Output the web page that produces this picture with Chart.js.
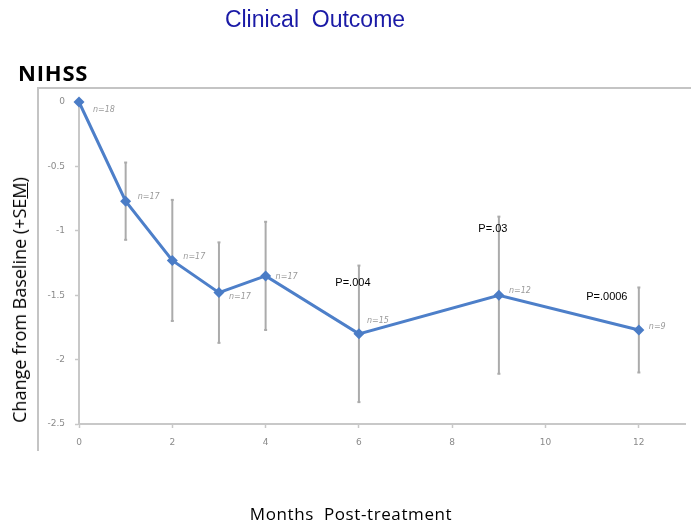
<!DOCTYPE html>
<html>
<head>
<meta charset="utf-8">
<script src="https://cdn.jsdelivr.net/npm/chart.js@4.4.1/dist/chart.umd.min.js"></script>
<style>
  html, body { margin:0; padding:0; background:#fff; }
  #wrap { position:relative; width:691px; height:524px; overflow:hidden; }
  #c { position:absolute; left:0; top:0; }
  .t { position:absolute; white-space:nowrap; }
  #title { left:0; width:630px; top:6px; text-align:center; font-family:"Liberation Sans", Arial, sans-serif; font-size:23px; color:#1a1aa6; }
  #nihss { left:18px; top:57px; font-family:"Open Sans", sans-serif; font-weight:bold; font-size:22px; color:#000; letter-spacing:0.8px; }
  #ytitle { left:19px; top:300px; font-family:"Open Sans", sans-serif; font-size:18px; color:#000; transform:translate(-50%,-50%) rotate(-90deg); }
  #xtitle { left:0; width:702px; top:502px; text-align:center; font-family:"Open Sans", sans-serif; font-size:17px; letter-spacing:0.6px; color:#000; }
</style>
</head>
<body>
<div id="wrap">
  <canvas id="c" width="691" height="524"></canvas>
  <div class="t" id="title">Clinical&nbsp; Outcome</div>
  <div class="t" id="nihss">NIHSS</div>
  <div class="t" id="ytitle">Change from Baseline (+SE<u>M</u>)</div>
  <div class="t" id="xtitle">Months&nbsp; Post-treatment</div>
</div>
<script>
const months = [0, 1, 2, 3, 4, 6, 9, 12];
const meanChange = [0, -0.77, -1.23, -1.48, -1.35, -1.80, -1.50, -1.77];
const sem = [0, 0.30, 0.47, 0.39, 0.42, 0.53, 0.61, 0.33];
const nLabels = ['n=18', 'n=17', 'n=17', 'n=17', 'n=17', 'n=15', 'n=12', 'n=9'];
const pLabels = [null, null, null, null, null, 'P=.004', 'P=.03', 'P=.0006'];
const xTickValues = [0, 2, 4, 6, 8, 10, 12];
const yTickValues = [0, -0.5, -1, -1.5, -2, -2.5];

// pixel offsets for annotation placement (drawing-only)
const nOffsets = [[14, 8], [12, -4], [11, -4], [10, 4], [10, 1], [8, -13], [10, -4], [10, -3]];
const pOffsets = {5: [-6, 17], 6: [-6, 12], 7: [-32, 9]};

const overlay = {
  id: 'overlay',
  beforeDatasetsDraw(chart) {
    const ctx = chart.ctx, xs = chart.scales.x, ys = chart.scales.y;
    ctx.save();
    ctx.strokeStyle = '#c4c4c4';
    ctx.lineWidth = 2;
    ctx.beginPath();
    ctx.moveTo(38, 451); ctx.lineTo(38, 88); ctx.lineTo(691, 88);
    ctx.stroke();
    ctx.strokeStyle = '#ababab';
    ctx.fillStyle = '#ababab';
    ctx.lineWidth = 2;
    months.forEach((m, i) => {
      if (!sem[i]) return;
      const x = xs.getPixelForValue(m);
      const y1 = ys.getPixelForValue(meanChange[i] + sem[i]);
      const y2 = ys.getPixelForValue(meanChange[i] - sem[i]);
      ctx.beginPath(); ctx.moveTo(x, y1); ctx.lineTo(x, y2); ctx.stroke();
      ctx.fillRect(x - 1.5, y1 - 1, 3, 2);
      ctx.fillRect(x - 1.5, y2 - 1, 3, 2);
    });
    ctx.restore();
  },
  afterDatasetsDraw(chart) {
    const ctx = chart.ctx, xs = chart.scales.x, ys = chart.scales.y;
    ctx.save();
    ctx.font = 'italic 8px "DejaVu Sans", sans-serif';
    ctx.fillStyle = '#9a9a9a';
    ctx.textAlign = 'left';
    ctx.textBaseline = 'middle';
    months.forEach((m, i) => {
      const x = xs.getPixelForValue(m), y = ys.getPixelForValue(meanChange[i]);
      ctx.fillText(nLabels[i], x + nOffsets[i][0], y + nOffsets[i][1]);
    });
    ctx.font = '11px "Liberation Sans", Arial, sans-serif';
    ctx.fillStyle = '#000';
    ctx.textAlign = 'center';
    months.forEach((m, i) => {
      if (!pLabels[i]) return;
      const x = xs.getPixelForValue(m);
      const y = ys.getPixelForValue(meanChange[i] + sem[i]);
      const o = pOffsets[i];
      ctx.fillText(pLabels[i], x + o[0], y + o[1]);
    });
    ctx.restore();
  }
};

new Chart(document.getElementById('c'), {
  type: 'scatter',
  data: {
    datasets: [{
      data: months.map((m, i) => ({x: m, y: meanChange[i]})),
      showLine: true,
      borderColor: '#4d7fc9',
      backgroundColor: '#4a7cc6',
      borderWidth: 3,
      pointStyle: 'rectRot',
      pointRadius: 5.5,
      pointBorderWidth: 0,
      clip: false
    }]
  },
  options: {
    responsive: false,
    animation: false,
    devicePixelRatio: 1,
    layout: { padding: { left: 0, right: 5, top: 102, bottom: 0 } },
    plugins: { legend: { display: false }, tooltip: { enabled: false }, title: { display: false } },
    scales: {
      x: {
        type: 'linear', min: 0, max: 13,
        afterFit(s) { s.height = 100; },
        afterBuildTicks(s) { s.ticks = xTickValues.map(v => ({value: v})); },
        ticks: { color: '#8a8a8a', font: { size: 9, family: '"DejaVu Sans", sans-serif' }, padding: 9 },
        grid: { drawOnChartArea: false, color: '#c8c8c8', tickLength: 4, tickWidth: 1.5 },
        border: { color: '#c8c8c8', width: 2 }
      },
      y: {
        type: 'linear', min: -2.5, max: 0,
        afterFit(s) { s.width = 79; },
        afterBuildTicks(s) { s.ticks = yTickValues.map(v => ({value: v})); },
        ticks: { color: '#8a8a8a', font: { size: 9, family: '"DejaVu Sans", sans-serif' }, padding: 10,
                 callback: v => String(v) },
        grid: { drawOnChartArea: false, color: '#c8c8c8', tickLength: 4, tickWidth: 1.5 },
        border: { color: '#c8c8c8', width: 2 }
      }
    }
  },
  plugins: [overlay]
});
</script>
</body>
</html>
